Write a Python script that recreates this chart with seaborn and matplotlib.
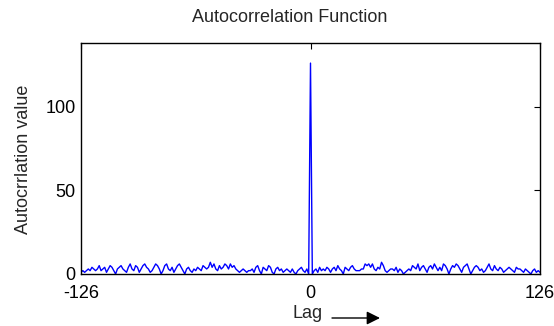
import numpy as np
import pandas as pd
import matplotlib
matplotlib.use("Agg")
import matplotlib.pyplot as plt
import seaborn as sns

# autocorrelation values (lags -126..-1, 0, 1..126)
neg_side = [1, 2, 1, 2, 3, 2, 4, 3, 2, 3,
            5, 2, 3, 4, 1, 3, 5, 4, 2, 0,
            3, 4, 5, 3, 2, 1, 4, 6, 3, 2,
            5, 4, 1, 3, 5, 6, 4, 3, 1, 2,
            4, 6, 5, 3, 0, 2, 5, 6, 3, 2,
            4, 1, 3, 5, 6, 4, 2, 0, 3, 4,
            2, 1, 3, 2, 4, 3, 2, 5, 4, 3,
            4, 7, 4, 6, 3, 2, 5, 3, 4, 6,
            5, 3, 6, 4, 5, 3, 2, 1, 2, 3,
            2, 1, 2, 2, 3, 1, 4, 5, 2, 0,
            4, 3, 2, 5, 4, 1, 0, 3, 4, 2,
            3, 1, 2, 3, 2, 1, 3, 1, 0, 2,
            3, 4, 2, 1, 3, 0]
peak = [126]
pos_side = [0, 2, 3, 1, 4, 2, 3, 2, 4, 3,
            1, 3, 4, 2, 5, 3, 2, 0, 4, 3,
            2, 4, 5, 3, 2, 2, 2, 3, 3, 6,
            5, 6, 4, 6, 3, 2, 4, 3, 7, 5,
            2, 1, 2, 3, 3, 2, 4, 1, 3, 2,
            0, 1, 2, 3, 2, 5, 4, 3, 6, 2,
            4, 5, 3, 1, 4, 5, 3, 6, 4, 2,
            4, 2, 6, 5, 3, 0, 3, 5, 4, 6,
            5, 3, 1, 4, 5, 6, 3, 0, 2, 4,
            5, 4, 2, 3, 1, 2, 4, 6, 3, 2,
            5, 3, 2, 4, 3, 1, 2, 3, 4, 3,
            2, 1, 4, 3, 3, 2, 1, 3, 2, 1,
            0, 2, 3, 1, 2, 1]
lags = list(range(-126, 127))
xticks = [-126, 0, 126]
yticks = [0, 50, 100]

acf = neg_side + peak + pos_side
df = pd.DataFrame({"lag": lags[:len(acf)], "acf": acf})

sns.set_style("white")
plt.rcParams["font.family"] = ["Liberation Sans", "DejaVu Sans"]

fig = plt.figure(figsize=(5.54, 3.26), dpi=100)
ax = fig.add_axes([81 / 554, 1 - 274 / 326, (540 - 81) / 554, (274 - 43) / 326])
sns.lineplot(data=df, x="lag", y="acf", color="#0000ff", linewidth=1.0, ax=ax)

ax.set_xlim(-126, 126)
ax.set_ylim(0, 138)
ax.set_xticks(xticks)
ax.set_xticklabels([str(t) for t in xticks])
ax.set_yticks(yticks)
ax.set_xlabel("")
ax.set_ylabel("")
ax.tick_params(direction="in", length=4, width=0.8, top=True, right=True,
               labelsize=13, pad=4, colors="black")
ax.tick_params(axis="x", pad=8)
for s in ax.spines.values():
    s.set_color("black")
    s.set_linewidth(1.0)

fig.text(289.5 / 554, 1 - 18 / 326, "Autocorrelation Function", ha="center",
         va="center", fontsize=13)
fig.text(24 / 554, 1 - 159 / 326, "Autocrrlation value", rotation=90,
         ha="center", va="center", fontsize=13)
fig.text(293 / 554, 1 - 314 / 326, "Lag", ha="left", va="center", fontsize=13)
ax.annotate("", xy=(380, 8), xytext=(332, 8), xycoords="figure pixels",
            textcoords="figure pixels",
            arrowprops=dict(arrowstyle="-|>", color="black", lw=1.0,
                            mutation_scale=20, shrinkA=0, shrinkB=0))

fig.savefig("out.png", dpi=100)
